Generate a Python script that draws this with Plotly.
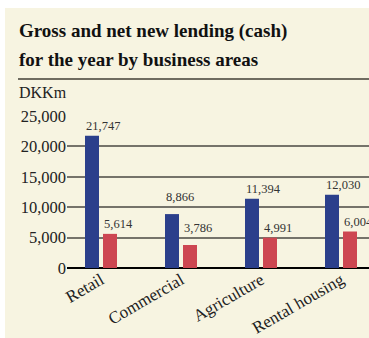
import plotly.graph_objects as go

# Business areas and lending figures (DKKm)
areas = ["Retail", "Commercial", "Agriculture", "Rental housing"]
gross_lending = [21747, 8866, 11394, 12030]
net_lending = [5614, 3786, 4991, 6004]
y_ticks = [0, 5000, 10000, 15000, 20000, 25000]

W, H = 369, 338
ML, MR, MT, MB = 67, 0, 116, 70
PW, PH = W - ML - MR, H - MT - MB

CREAM = "#f7f4e1"
BLUE = "#2b3f8b"
RED = "#cd4651"
GRID = "#75736a"
SERIF = "Liberation Serif"

BAR_W = 0.175
OFF_GROSS = -0.2
OFF_NET = 0.025
# extra lift (px) for value labels that sit close to a gridline
LABEL_LIFT = {"Commercial": 7}


def px_x(x):
    return (x - ML) / PW


def px_y(y):
    return (H - MB - y) / PH


fig = go.Figure()
fig.add_trace(go.Bar(
    x=areas, y=gross_lending, name="Gross new lending",
    marker=dict(color=BLUE, line=dict(width=0)),
    width=BAR_W, offset=OFF_GROSS,
))
fig.add_trace(go.Bar(
    x=areas, y=net_lending, name="Net new lending",
    marker=dict(color=RED, line=dict(width=0)),
    width=BAR_W, offset=OFF_NET,
))

annotations = []
# value labels, left-aligned with each bar
for i, (area, g, n) in enumerate(zip(areas, gross_lending, net_lending)):
    for val, off in ((g, OFF_GROSS), (n, OFF_NET)):
        annotations.append(dict(
            x=i + off, y=val, xref="x", yref="y",
            text=f"{val:,}", showarrow=False,
            xanchor="left", yanchor="bottom", xshift=-1,
            yshift=1 + LABEL_LIFT.get(area, 0),
            font=dict(family=SERIF, size=12.5, color="#333333"),
        ))

# heading and unit label
annotations += [
    dict(x=px_x(17), y=px_y(31), xref="paper", yref="paper",
         text="<b>Gross and net new lending (cash)</b>", showarrow=False,
         xanchor="left", yanchor="middle",
         font=dict(family=SERIF, size=19, color="#111111")),
    dict(x=px_x(17), y=px_y(59), xref="paper", yref="paper",
         text="<b>for the year by business areas</b>", showarrow=False,
         xanchor="left", yanchor="middle",
         font=dict(family=SERIF, size=19, color="#111111")),
    dict(x=px_x(17), y=px_y(93), xref="paper", yref="paper",
         text="DKKm", showarrow=False,
         xanchor="left", yanchor="middle",
         font=dict(family=SERIF, size=16, color="#222222")),
]

shapes = [
    # white strips around the cream panel
    dict(type="rect", xref="paper", yref="paper", layer="below",
         x0=px_x(0), x1=px_x(W), y0=px_y(0), y1=px_y(8),
         fillcolor="white", line=dict(width=0)),
    dict(type="rect", xref="paper", yref="paper", layer="below",
         x0=px_x(0), x1=px_x(5), y0=px_y(0), y1=px_y(H),
         fillcolor="white", line=dict(width=0)),
    # rule under the heading
    dict(type="line", xref="paper", yref="paper",
         x0=px_x(18), x1=px_x(W), y0=px_y(79), y1=px_y(79),
         line=dict(color="#6f6c60", width=2)),
]

fig.update_layout(
    width=W, height=H,
    margin=dict(l=ML, r=MR, t=MT, b=MB, pad=0, autoexpand=False),
    paper_bgcolor=CREAM, plot_bgcolor="rgba(0,0,0,0)",
    barmode="overlay", showlegend=False,
    annotations=annotations, shapes=shapes,
    xaxis=dict(
        type="category", range=[-0.425, 3.35], automargin=False,
        tickangle=-30, showgrid=False, showline=False, ticks="",
        ticklabelstandoff=-2,
        tickfont=dict(family=SERIF, size=17, color="#222222"),
        fixedrange=True,
    ),
    yaxis=dict(
        range=[0, 25000], tickvals=y_ticks, tickformat=",d",
        automargin=False,
        showgrid=True, gridcolor=GRID, gridwidth=1.5,
        zeroline=True, zerolinecolor="#000000", zerolinewidth=2,
        showline=False, ticks="",
        tickfont=dict(family=SERIF, size=16.5, color="#222222"),
        fixedrange=True,
    ),
)

fig.write_html("out.html")
